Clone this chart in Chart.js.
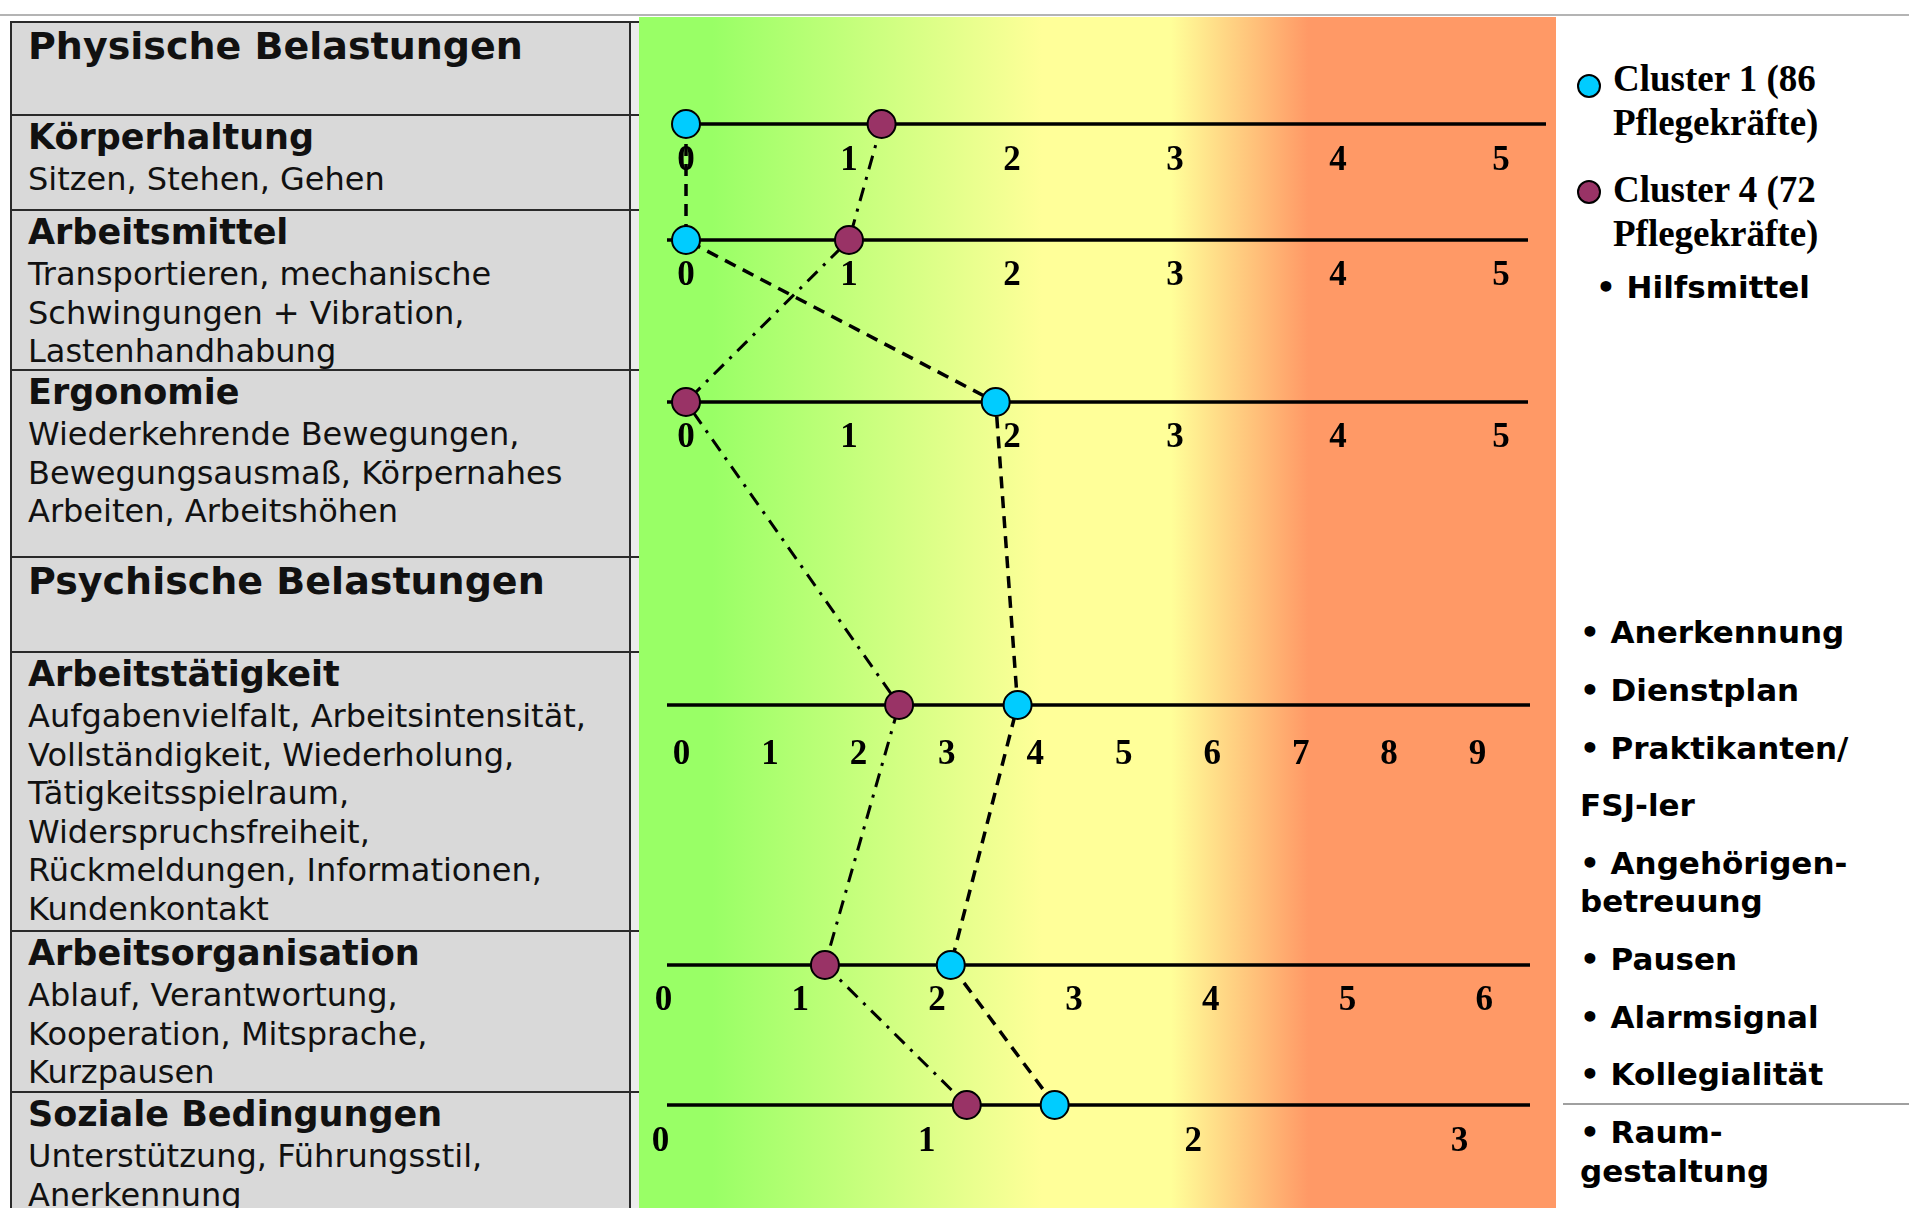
<!DOCTYPE html>
<html lang="de">
<head>
<meta charset="utf-8">
<title>Belastungsprofil Cluster 1 und Cluster 4</title>
<script src="https://cdn.jsdelivr.net/npm/chart.js@4.4.0/dist/chart.umd.min.js"></script>
<style>
  html, body { margin: 0; padding: 0; background: #fff; width: 1909px; height: 1208px; overflow: hidden; }
  #topline { position: absolute; left: 0; top: 14px; width: 1909px; height: 2px; background: #b4b4b4; }
  #table { position: absolute; left: 10px; top: 21px; width: 629px; height: 1187px; overflow: hidden; }
  .cell {
    position: absolute; left: 0; width: 629px; box-sizing: border-box;
    border-top: 2px solid #2a2a2a; border-left: 2px solid #2a2a2a;
    background: linear-gradient(to right, #d9d9d9 0, #d9d9d9 617px, #2a2a2a 617px, #2a2a2a 619px, #ececec 619px);
    padding: 0 0 0 16px; font-family: "DejaVu Sans", sans-serif; color: #111;
  }
  .cell h2 { margin: -2px 0 0 0; font-size: 35px; line-height: 46px; font-weight: bold; }
  .cell.sec h2 { font-size: 38px; margin-top: 0; }
  .cell p { margin: 0; font-size: 32px; line-height: 38.5px; }
  #panel {
    position: absolute; left: 639px; top: 17px; width: 917px; height: 1191px;
    background: linear-gradient(to right, #99ff66 0%, #99ff66 8%, #ffff99 44%, #ffff99 58%, #ff9966 73%, #ff9966 100%);
  }
  #chartBox { position: absolute; left: 639px; top: 0; width: 917px; height: 1208px; }
  .lg { position: absolute; left: 1613px; font: bold 37px "Liberation Serif", serif; line-height: 44px; white-space: nowrap; color: #000; }
  .dot { position: absolute; left: 1577px; width: 24px; height: 24px; box-sizing: border-box; border: 2px solid #000; border-radius: 50%; }
  .it { position: absolute; left: 1580px; font: bold 31px "DejaVu Sans", sans-serif; line-height: 40px; white-space: nowrap; color: #000; }
  #rline { position: absolute; left: 1563px; top: 1103px; width: 346px; height: 2px; background: #a0a0a0; }
</style>
</head>
<body>
<div id="topline"></div>

<div id="table">
  <div class="cell sec" style="top:0;height:95px"><h2>Physische Belastungen</h2></div>
  <div class="cell" style="top:93px;height:97px"><h2>Körperhaltung</h2><p>Sitzen, Stehen, Gehen</p></div>
  <div class="cell" style="top:188px;height:162px"><h2>Arbeitsmittel</h2><p>Transportieren, mechanische<br>Schwingungen + Vibration,<br>Lastenhandhabung</p></div>
  <div class="cell" style="top:348px;height:189px"><h2>Ergonomie</h2><p>Wiederkehrende Bewegungen,<br>Bewegungsausmaß, Körpernahes<br>Arbeiten, Arbeitshöhen</p></div>
  <div class="cell sec" style="top:535px;height:97px"><h2>Psychische Belastungen</h2></div>
  <div class="cell" style="top:630px;height:281px"><h2>Arbeitstätigkeit</h2><p>Aufgabenvielfalt, Arbeitsintensität,<br>Vollständigkeit, Wiederholung,<br>Tätigkeitsspielraum,<br>Widerspruchsfreiheit,<br>Rückmeldungen, Informationen,<br>Kundenkontakt</p></div>
  <div class="cell" style="top:909px;height:163px"><h2>Arbeitsorganisation</h2><p>Ablauf, Verantwortung,<br>Kooperation, Mitsprache,<br>Kurzpausen</p></div>
  <div class="cell" style="top:1070px;height:140px"><h2>Soziale Bedingungen</h2><p>Unterstützung, Führungsstil,<br>Anerkennung</p></div>
</div>

<div id="panel"></div>
<div id="chartBox"><canvas id="chart"></canvas></div>

<span class="dot" style="top:74px;background:#00ccff"></span>
<div class="lg" style="top:57px">Cluster 1 (86<br>Pflegekräfte)</div>
<span class="dot" style="top:180px;background:#993366"></span>
<div class="lg" style="top:168px">Cluster 4 (72<br>Pflegekräfte)</div>
<div class="it" style="top:267px;left:1596px">• Hilfsmittel</div>

<div class="it" style="top:612px">• Anerkennung</div>
<div class="it" style="top:670px">• Dienstplan</div>
<div class="it" style="top:728px">• Praktikanten/</div>
<div class="it" style="top:785px">FSJ-ler</div>
<div class="it" style="top:843px">• Angehörigen-</div>
<div class="it" style="top:881px">betreuung</div>
<div class="it" style="top:939px">• Pausen</div>
<div class="it" style="top:997px">• Alarmsignal</div>
<div class="it" style="top:1054px">• Kollegialität</div>
<div id="rline"></div>
<div class="it" style="top:1112px">• Raum-</div>
<div class="it" style="top:1151px">gestaltung</div>

<script>
// one row per burden dimension, each with its own scale
const rowNames = ['Körperhaltung', 'Arbeitsmittel', 'Ergonomie', 'Arbeitstätigkeit', 'Arbeitsorganisation', 'Soziale Bedingungen'];
const tickLabels = [
    [0, 1, 2, 3, 4, 5],
    [0, 1, 2, 3, 4, 5],
    [0, 1, 2, 3, 4, 5],
    [0, 1, 2, 3, 4, 5, 6, 7, 8, 9],
    [0, 1, 2, 3, 4, 5, 6],
    [0, 1, 2, 3]
];
const cluster1 = [0, 0, 1.9, 3.8, 2.1, 1.48];    // Cluster 1 (86 Pflegekräfte)
const cluster4 = [1.2, 1.0, 0, 2.46, 1.18, 1.15]; // Cluster 4 (72 Pflegekräfte)

// layout only (page px): row heights, label offsets, axis stretch and line extents
const rowY = [124, 240, 402, 705, 965, 1105];
const labelDy = [37, 36, 36, 50, 36, 37];
const zeroX = [686, 686, 686, 681.5, 663.5, 660.4];
const unitPx = [163, 163, 163, 88.45, 136.8, 266.4];
const lineFrom = [699, 667, 667, 667, 667, 667];
const lineTo = [1546, 1528, 1528, 1530, 1530, 1530];
const boxLeft = 639, areaLeft = 667, areaRight = 1530, boxRight = 1556;

const scales = {
    y: { type: 'linear', display: false, reverse: true, min: 0, max: 1208 }
};
rowNames.forEach((name, r) => {
    scales['x' + r] = {
        type: 'linear', display: false, axis: 'x',
        min: (areaLeft - zeroX[r]) / unitPx[r],
        max: (areaRight - zeroX[r]) / unitPx[r]
    };
});

const datasets = [];
rowNames.forEach((name, r) => {
    datasets.push({
        label: 'Cluster 1 (86 Pflegekräfte)', xAxisID: 'x' + r, yAxisID: 'y',
        data: [{ x: cluster1[r], y: rowY[r] }],
        backgroundColor: '#00ccff', borderColor: '#000', borderWidth: 2,
        pointRadius: 14, clip: false
    });
    datasets.push({
        label: 'Cluster 4 (72 Pflegekräfte)', xAxisID: 'x' + r, yAxisID: 'y',
        data: [{ x: cluster4[r], y: rowY[r] }],
        backgroundColor: '#993366', borderColor: '#000', borderWidth: 2,
        pointRadius: 14, clip: false
    });
});

// draws the row axes with their tick numbers and the lines joining each cluster
const rowAxes = {
    id: 'rowAxes',
    beforeDatasetsDraw(chart) {
        const ctx = chart.ctx;
        const ys = chart.scales.y;
        ctx.save();
        rowY.forEach((v, r) => {
            const py = ys.getPixelForValue(v);
            const sx = chart.scales['x' + r];
            ctx.setLineDash([]);
            ctx.strokeStyle = '#000';
            ctx.lineWidth = 3.5;
            ctx.beginPath();
            ctx.moveTo(lineFrom[r] - boxLeft, py);
            ctx.lineTo(lineTo[r] - boxLeft, py);
            ctx.stroke();
            ctx.font = 'bold 35px "Liberation Serif"';
            ctx.fillStyle = '#000';
            ctx.textAlign = 'center';
            ctx.textBaseline = 'middle';
            tickLabels[r].forEach(t => ctx.fillText(String(t), sx.getPixelForValue(t), py + labelDy[r]));
        });

        const styles = [[0, [12, 8], 3.5], [1, [14, 8, 3, 8], 3]];
        styles.forEach(([c, dash, w]) => {
            ctx.setLineDash(dash);
            ctx.lineWidth = w;
            ctx.beginPath();
            rowNames.forEach((name, r) => {
                const pt = chart.getDatasetMeta(r * 2 + c).data[0];
                if (r === 0) ctx.moveTo(pt.x, pt.y);
                else ctx.lineTo(pt.x, pt.y);
            });
            ctx.stroke();
        });
        ctx.restore();
    }
};

new Chart(document.getElementById('chart').getContext('2d'), {
    type: 'scatter',
    data: { datasets: datasets },
    options: {
        responsive: true,
        maintainAspectRatio: false,
        animation: false,
        layout: {
            autoPadding: false,
            padding: { left: areaLeft - boxLeft, right: boxRight - areaRight, top: 0, bottom: 0 }
        },
        scales: scales,
        plugins: { legend: { display: false }, tooltip: { enabled: false } }
    },
    plugins: [rowAxes]
});
</script>
</body>
</html>
